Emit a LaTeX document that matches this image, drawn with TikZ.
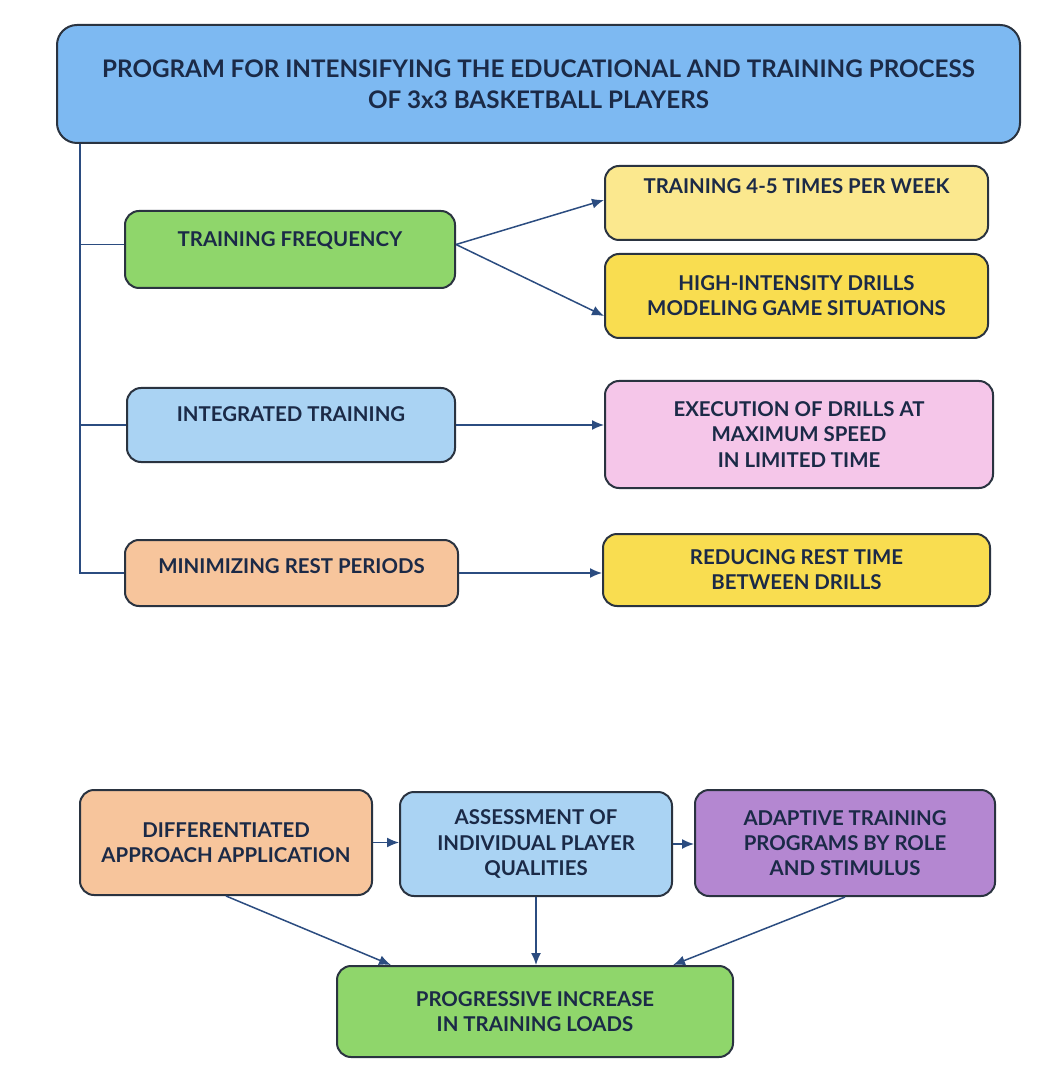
\documentclass[tikz,border=0pt]{standalone}
\usepackage{fontspec}
\setmainfont{Lato}
\usepackage{tikz}
\usetikzlibrary{arrows.meta,positioning}

\definecolor{edge}{HTML}{2A3340}
\definecolor{ink}{HTML}{1B2A47}
\definecolor{wire}{HTML}{2B4C80}
\definecolor{titleblue}{HTML}{7DB9F2}
\definecolor{leafgreen}{HTML}{8FD66B}
\definecolor{skyblue}{HTML}{AAD3F3}
\definecolor{peach}{HTML}{F7C59C}
\definecolor{sunyellow}{HTML}{F9DD50}
\definecolor{paleyellow}{HTML}{FBE88E}
\definecolor{rosepink}{HTML}{F5C6E9}
\definecolor{lilac}{HTML}{B487D1}

\begin{document}
\begin{tikzpicture}[
  x=0.5pt, y=-0.5pt,
  box/.style={draw=edge, line width=1pt, rounded corners=7pt, align=center,
              font=\bfseries\fontsize{10.2}{12.6}\selectfont, text=ink, inner sep=2pt},
  lift/.style={text height=7pt, text depth=#1},
  arr/.style={-{Latex[length=6pt,width=5pt]}, line width=0.75pt, draw=wire},
  link/.style={line width=0.75pt, draw=wire}
]
\useasboundingbox[fill=white] (0,0) rectangle (1058,1068);

% header
\node[box, fill=titleblue, rounded corners=10pt, minimum width=481.5pt, minimum height=59pt,
      font=\bfseries\fontsize{12.1}{15.5}\selectfont] (title) at (538.5,84)
  {PROGRAM FOR INTENSIFYING THE EDUCATIONAL AND TRAINING PROCESS\\OF 3x3 BASKETBALL PLAYERS};

% upper block
\node[box, fill=leafgreen, minimum width=165pt, minimum height=38.5pt, lift=9.5pt] (tf) at (290,249.5) {TRAINING FREQUENCY};
\node[box, fill=paleyellow, minimum width=191.5pt, minimum height=37pt, lift=16pt] (t45) at (796.5,203) {TRAINING 4-5 TIMES PER WEEK};
\node[box, fill=sunyellow, minimum width=191.5pt, minimum height=42pt] (hi) at (796.5,296) {HIGH-INTENSITY DRILLS\\MODELING GAME SITUATIONS};
\node[box, fill=skyblue, minimum width=164pt, minimum height=37pt, lift=10pt] (it) at (291,425) {INTEGRATED TRAINING};
\node[box, fill=rosepink, minimum width=194pt, minimum height=53.5pt] (ex) at (799,434.5) {EXECUTION OF DRILLS AT\\MAXIMUM SPEED\\IN LIMITED TIME};
\node[box, fill=peach, minimum width=166.5pt, minimum height=33pt, lift=7pt] (mr) at (291.5,573) {MINIMIZING REST PERIODS};
\node[box, fill=sunyellow, minimum width=193.5pt, minimum height=36pt] (rr) at (796.5,570) {REDUCING REST TIME\\BETWEEN DRILLS};

% lower block
\node[box, fill=peach, minimum width=146pt, minimum height=52.5pt] (da) at (226,842.5) {DIFFERENTIATED\\APPROACH APPLICATION};
\node[box, fill=skyblue, minimum width=136pt, minimum height=52pt] (ap) at (536,844) {ASSESSMENT OF\\INDIVIDUAL PLAYER\\QUALITIES};
\node[box, fill=lilac, minimum width=150pt, minimum height=53pt] (ad) at (845,843) {ADAPTIVE TRAINING\\PROGRAMS BY ROLE\\AND STIMULUS};
\node[box, fill=leafgreen, minimum width=198pt, minimum height=45.5pt] (pl) at (535,1011.5) {PROGRESSIVE INCREASE\\IN TRAINING LOADS};

% trunk
\coordinate (trunk) at (80,573);
\draw[link] (title.south -| trunk) -- (trunk) -- (mr.west);
\draw[link] ([yshift=2.5pt]tf.west -| trunk) -- ([yshift=2.5pt]tf.west);
\draw[link] (it.west -| trunk) -- (it.west);

\draw[arr] ([yshift=2.5pt]tf.east) -- ([yshift=1.5pt]t45.west);
\draw[arr] ([yshift=2.5pt]tf.east) -- ([yshift=-10pt]hi.west);
\draw[arr] (it.east) -- (it.east -| ex.west);
\draw[arr] (mr.east) -- (mr.east -| rr.west);

\draw[arr] (da.east) -- (da.east -| ap.west);
\draw[arr] (ap.east) -- (ap.east -| ad.west);
\draw[arr] (da.south) -- ([xshift=27.5pt]pl.north west);
\draw[arr] (ap.south) -- (ap.south |- pl.north);
\draw[arr] (ad.south) -- ([xshift=-30.5pt]pl.north east);
\end{tikzpicture}
\end{document}
